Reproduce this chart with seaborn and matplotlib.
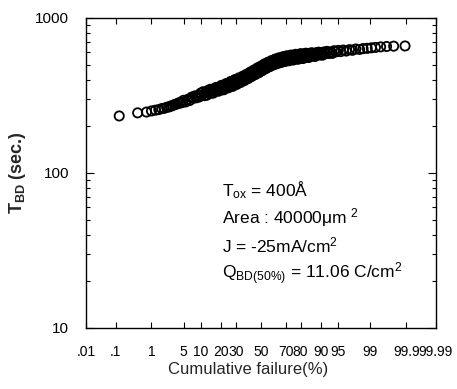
import numpy as np
import matplotlib
matplotlib.use("Agg")
import matplotlib.pyplot as plt
import seaborn as sns
from statistics import NormalDist

# ---- data (cumulative failure %, breakdown time s) ----
cum_failure_pct = [
    0.13, 0.44, 0.75, 1.0, 1.25, 1.5, 1.75, 2.0, 2.25, 2.5, 2.75, 3.0, 3.3, 3.6, 3.9, 4.2, 4.5, 4.8,
    5.0, 5.5, 6.0, 6.5, 7.0, 7.5, 8.0, 8.5, 9.0, 9.5, 10.0, 10.5, 11.0, 11.5, 12.0, 12.5,
    13.0, 13.5, 14.0, 14.5, 15.0, 15.5, 16.0, 16.5, 17.0, 17.5, 18.0, 18.5, 19.0, 19.5,
    20.0, 20.5, 21.0, 21.5, 22.0, 22.5, 23.0, 23.5, 24.0, 24.5, 25.0, 25.5, 26.0, 26.5,
    27.0, 27.5, 28.0, 28.5, 29.0, 29.5, 30.0, 30.5, 31.0, 31.5, 32.0, 32.5, 33.0, 33.5,
    34.0, 34.5, 35.0, 35.5, 36.0, 36.5, 37.0, 37.5, 38.0, 38.5, 39.0, 39.5, 40.0, 40.5,
    41.0, 41.5, 42.0, 42.5, 43.0, 43.5, 44.0, 44.5, 45.0, 45.5, 46.0, 46.5, 47.0, 47.5,
    48.0, 48.5, 49.0, 49.5, 50.0, 50.5, 51.0, 51.5, 52.0, 52.5, 53.0, 53.5, 54.0, 54.5,
    55.0, 55.5, 56.0, 56.5, 57.0, 57.5, 58.0, 58.5, 59.0, 59.5, 60.0, 60.5, 61.0, 61.5,
    62.0, 62.5, 63.0, 63.5, 64.0, 64.5, 65.0, 65.5, 66.0, 66.5, 67.0, 67.5, 68.0, 68.5,
    69.0, 69.5, 70.0, 70.5, 71.0, 71.5, 72.0, 72.5, 73.0, 73.5, 74.0, 74.5, 75.0, 75.5,
    76.0, 76.5, 77.0, 77.5, 78.0, 78.5, 79.0, 79.5, 80.0, 80.5, 81.0, 81.5, 82.0, 82.5,
    83.0, 83.5, 84.0, 84.5, 85.0, 85.5, 86.0, 86.5, 87.0, 87.5, 88.0, 88.5, 89.0, 89.5,
    90.0, 90.5, 91.0, 91.5, 92.0, 92.5, 93.0, 93.5, 94.0, 94.5, 95.0,
    95.5, 96.0, 96.5, 97.0, 97.4, 97.8, 98.2, 98.5, 98.8, 99.05, 99.25, 99.45, 99.62, 99.76, 99.89]
t_bd_sec = [
    233, 244, 247, 251, 254, 256, 260, 261, 265, 266, 270, 271, 276, 277, 282, 281, 287, 285,
    294, 287, 298, 293, 308, 303, 314, 305, 315, 309, 327, 317, 334, 315, 330, 317,
    340, 330, 346, 327, 341, 327, 350, 339, 356, 337, 350, 337, 359, 349,
    367, 344, 360, 344, 371, 357, 377, 354, 371, 354, 381, 368, 389, 363,
    381, 362, 392, 378, 400, 373, 391, 373, 403, 388, 410, 384, 402, 384,
    413, 399, 421, 395, 413, 395, 425, 411, 433, 407, 425, 407, 437, 423,
    447, 419, 438, 420, 452, 437, 461, 432, 453, 432, 466, 450, 476, 445,
    466, 444, 480, 463, 489, 458, 480, 458, 494, 477, 505, 472, 494, 472,
    509, 491, 518, 485, 507, 485, 522, 504, 531, 498, 520, 497, 533, 515,
    543, 507, 530, 506, 545, 525, 553, 517, 540, 515, 554, 534, 562, 526,
    548, 523, 562, 542, 570, 533, 556, 529, 568, 547, 576, 539, 562, 535,
    574, 553, 582, 545, 568, 541, 580, 559, 588, 551, 574, 547, 586, 565,
    592, 558, 579, 555, 591, 572, 596, 567, 586, 564, 596, 579, 601, 576,
    592, 575, 603, 590, 608, 589, 603, 590, 614, 604, 617,
    606, 620, 611, 624, 618, 630, 626, 634, 636, 641, 645, 650, 654, 657, 659]

xtick_vals = [0.01, 0.1, 1, 5, 10, 20, 30, 50, 70, 80, 90, 95, 99, 99.9, 99.99]
xtick_labels = ['.01', '.1', '1', '5', '10', '20', '30', '50', '70', '80', '90', '95', '99', '99.9', '99.99']
ytick_vals = [10, 100, 1000]
ytick_labels = ['10', '100', '1000']
annotation_lines = [r'T$_{ox}$ = 400Å',
                    r'Area : 40000μm $^{2}$',
                    r'J = -25mA/cm$^{2}$',
                    r'Q$_{BD(50\%)}$ = 11.06 C/cm$^{2}$']

sns.set_theme(style="ticks")
plt.rcParams['font.family'] = ['Liberation Sans', 'DejaVu Sans']
plt.rcParams['mathtext.default'] = 'regular'

_nd = NormalDist()


def _fwd(p):
    p = np.clip(np.asarray(p, dtype=float) / 100.0, 1e-9, 1 - 1e-9)
    return np.vectorize(_nd.inv_cdf, otypes=[float])(p)


def _inv(z):
    z = np.asarray(z, dtype=float)
    return np.vectorize(_nd.cdf, otypes=[float])(z) * 100.0


fig = plt.figure(figsize=(4.57, 3.89), dpi=100)
ax = fig.add_axes([0.188, 0.157, 0.766, 0.797])

sns.scatterplot(x=cum_failure_pct, y=t_bd_sec, ax=ax, marker='o', s=44,
                facecolors='none', edgecolor='black', linewidth=1.3, legend=False)

ax.set_xscale('function', functions=(_fwd, _inv))
ax.set_yscale('log')
ax.set_xlim(0.01, 99.99)
ax.set_ylim(10, 1000)

ax.set_xticks(xtick_vals)
ax.set_xticklabels(xtick_labels)
ax.xaxis.set_minor_locator(matplotlib.ticker.NullLocator())
ax.set_yticks(ytick_vals)
ax.set_yticklabels(ytick_labels)

ax.tick_params(axis='both', which='both', direction='in', top=True, right=True,
               colors='black', width=0.8)
ax.tick_params(axis='x', which='major', length=4, labelsize=10, pad=12)
ax.tick_params(axis='y', which='major', length=6, labelsize=11, pad=12)
ax.tick_params(axis='y', which='minor', length=3)

for sp in ax.spines.values():
    sp.set_color('black')
    sp.set_linewidth(1.0)

ax.set_xlabel('Cumulative failure(%)', fontsize=12)
ax.xaxis.set_label_coords(0.463, -0.11)
ax.set_ylabel(r'T$_{BD}$ (sec.)', fontsize=13, fontweight='bold')
ax.yaxis.set_label_coords(-0.165, 0.5)

for i, line in enumerate(annotation_lines):
    ax.text(0.39, 0.445 - i * 0.090, line, transform=ax.transAxes,
            fontsize=12.5, ha='left', va='center', color='black')

fig.savefig('out.png', dpi=100)
